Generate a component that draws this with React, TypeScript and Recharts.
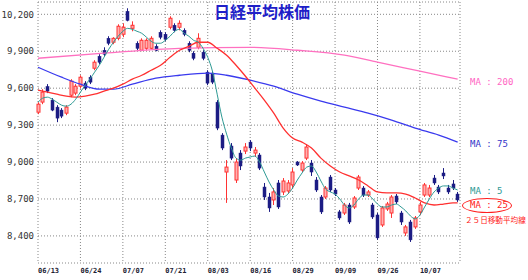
import { ComposedChart, Bar, Line, XAxis, YAxis, CartesianGrid } from "recharts";

// trading days from 06/13, one label every 9 sessions
const tickDays = [0, 9, 18, 27, 36, 45, 54, 63, 72, 81];
const tickDates = ["06/13", "06/24", "07/07", "07/21", "08/03", "08/16", "08/29", "09/09", "09/26", "10/07"];
const priceTicks = [8400, 8700, 9000, 9300, 9600, 9900, 10200];

const opens = [
  9405, 9487, 9613, 9503, 9446, 9422, 9397, 9543, 9560, 9616,
  9641, 9689, 9762, 9859, 9908, 10005, 9973, 10005, 10038, 10224,
  10086, 9965, 9908, 9924, 9924, 9940, 10054, 10038, 10095, 10111,
  10095, 10070, 9965, 9884, 9932, 9892, 9730, 9722, 9486, 9219,
  8919, 9130, 8854, 9073, 9089, 9162, 9073, 9057, 8797, 8716,
  8692, 8830, 8757, 8765, 8814, 9000, 8935, 9032, 8992, 8854,
  8716, 8716, 8878, 8773, 8595, 8586, 8651, 8635, 8789, 8789,
  8732, 8651, 8570, 8489, 8619, 8586, 8724, 8586, 8424, 8513,
  8473, 8595, 8732, 8732, 8870, 8797, 8911, 8789, 8822, 8740,
];
const highs = [
  9486, 9592, 9633, 9519, 9462, 9438, 9462, 9673, 9633, 9705,
  9657, 9705, 9827, 9876, 9932, 10022, 10014, 10119, 10127, 10249,
  10143, 9981, 10005, 10005, 10022, 9957, 10070, 10054, 10184, 10127,
  10151, 10086, 9981, 9900, 10046, 9908, 9746, 9738, 9503, 9235,
  9016, 9154, 9032, 9097, 9154, 9178, 9122, 9073, 8830, 8749,
  8789, 8854, 8870, 8854, 8951, 9008, 9008, 9146, 9016, 8878,
  8732, 8805, 8895, 8789, 8611, 8668, 8668, 8724, 8895, 8805,
  8773, 8668, 8586, 8643, 8676, 8732, 8740, 8603, 8489, 8530,
  8562, 8676, 8830, 8814, 8895, 8814, 8951, 8814, 8854, 8757,
];
const lows = [
  9389, 9470, 9560, 9413, 9324, 9357, 9381, 9527, 9543, 9600,
  9584, 9633, 9746, 9795, 9859, 9949, 9957, 9989, 10014, 10143,
  10062, 9908, 9900, 9908, 9916, 9900, 9997, 9981, 10078, 10054,
  10070, 10022, 9892, 9827, 9916, 9827, 9624, 9633, 9259, 9097,
  8668, 9016, 8830, 8935, 9065, 9089, 9041, 8935, 8692, 8595,
  8651, 8619, 8732, 8749, 8789, 8968, 8919, 9016, 8887, 8757,
  8578, 8700, 8757, 8724, 8530, 8570, 8497, 8619, 8773, 8716,
  8716, 8538, 8368, 8473, 8603, 8546, 8659, 8489, 8400, 8351,
  8457, 8570, 8716, 8716, 8814, 8740, 8862, 8740, 8773, 8676,
];
const closes = [
  9470, 9568, 9576, 9422, 9357, 9373, 9446, 9657, 9616, 9689,
  9600, 9649, 9811, 9811, 9876, 9965, 10005, 10103, 10095, 10151,
  10111, 9924, 9989, 9989, 10005, 9908, 10014, 9997, 10168, 10070,
  10127, 10038, 9908, 9843, 10005, 9843, 9641, 9649, 9276, 9114,
  8959, 9032, 9000, 8968, 9122, 9114, 9097, 8951, 8716, 8627,
  8757, 8635, 8846, 8830, 8919, 8976, 8992, 9122, 8919, 8773,
  8595, 8789, 8773, 8740, 8546, 8651, 8513, 8708, 8878, 8732,
  8757, 8554, 8384, 8627, 8659, 8716, 8676, 8513, 8473, 8368,
  8546, 8651, 8814, 8789, 8830, 8757, 8887, 8757, 8789, 8692,
];

const ma5 = [
  9486, 9519, 9527, 9511, 9486, 9462, 9454, 9470, 9511, 9568,
  9624, 9673, 9730, 9786, 9851, 9916, 9973, 10022, 10062, 10086,
  10078, 10062, 10046, 10014, 9981, 9965, 9965, 9989, 10022, 10062,
  10078, 10046, 10022, 9989, 9973, 9924, 9851, 9738, 9551, 9365,
  9227, 9114, 9032, 9016, 9032, 9041, 9049, 9000, 8919, 8838,
  8773, 8724, 8716, 8740, 8789, 8854, 8911, 8959, 8968, 8919,
  8846, 8781, 8757, 8740, 8700, 8651, 8627, 8651, 8700, 8732,
  8732, 8700, 8659, 8635, 8635, 8651, 8659, 8635, 8603, 8562,
  8538, 8570, 8635, 8700, 8757, 8789, 8806, 8806, 8789, 8773,
];

const ma25Days = [0, 2, 4, 6, 8, 10, 12, 14, 16, 18, 20, 22, 24, 26, 28, 30, 32, 34, 36, 38, 40, 42, 44, 46, 48, 50, 52, 54, 56, 58, 60, 62, 64, 66, 68, 70, 72, 74, 76, 78, 80, 82, 84, 86, 88, 89];
const ma25Values = [
  9584, 9568, 9551, 9535, 9527, 9535, 9551, 9576, 9600, 9633,
  9673, 9705, 9746, 9786, 9851, 9908, 9940, 9973, 9973, 9924,
  9868, 9786, 9697, 9600, 9503, 9397, 9276, 9195, 9162, 9114,
  9032, 8968, 8919, 8887, 8854, 8806, 8757, 8749, 8749, 8740,
  8708, 8668, 8651, 8659, 8668, 8668,
];

const ma75Days = [0, 5, 9, 13, 16, 20, 25, 30, 36, 40, 45, 50, 55, 60, 65, 70, 75, 80, 85, 89];
const ma75Values = [
  9770, 9689, 9632, 9592, 9592, 9632, 9681, 9705, 9722, 9705,
  9665, 9616, 9551, 9495, 9446, 9397, 9341, 9276, 9219, 9162,
];

const ma200Days = [0, 14, 30, 45, 55, 65, 72, 81, 89];
const ma200Values = [9843, 9884, 9924, 9932, 9908, 9868, 9811, 9738, 9673];

const rows = opens.map((open, i) => {
  const a = ma25Days.indexOf(i);
  const b = ma75Days.indexOf(i);
  const c = ma200Days.indexOf(i);
  return {
    i,
    open,
    close: closes[i],
    range: [lows[i], highs[i]],
    ma5: ma5[i],
    ma25: a >= 0 ? ma25Values[a] : null,
    ma75: b >= 0 ? ma75Values[b] : null,
    ma200: c >= 0 ? ma200Values[c] : null,
  };
});

const UP = "#ff3333";
const DOWN = "#1c1c84";

function Candle(props: any) {
  const { x, y, width, height, payload } = props;
  if (!payload || height == null) return null;
  const [low, high] = payload.range;
  const top0 = Math.min(y, y + height);
  const h = Math.abs(height);
  const toY = (v: number) => top0 + ((high - v) / (high - low)) * h;
  const up = payload.close >= payload.open;
  const color = up ? UP : DOWN;
  const cx = Math.round(x + width / 2) + 0.5;
  const bTop = toY(Math.max(payload.open, payload.close));
  const bBot = toY(Math.min(payload.open, payload.close));
  return (
    <g>
      <line x1={cx} x2={cx} y1={top0} y2={top0 + h} stroke={color} strokeWidth={1} />
      <rect
        x={cx - 1.5}
        y={bTop}
        width={3}
        height={Math.max(bBot - bTop, 1.5)}
        fill={up ? "#ffb0b0" : color}
        stroke={color}
        strokeWidth={up ? 1 : 0.5}
      />
    </g>
  );
}

function DateTick(props: any) {
  const { x, y, payload } = props;
  const k = tickDays.indexOf(payload.value);
  return (
    <text x={x} y={y} dy={7} textAnchor="start" fontSize={7} fontFamily="DejaVu Sans Mono" fill="#223" fontWeight="bold">
      {tickDates[k]}
    </text>
  );
}

const label = (color: string, size = 9): React.CSSProperties => ({
  position: "absolute",
  color,
  fontSize: size,
  fontFamily: "DejaVu Sans Mono",
  lineHeight: 1,
  whiteSpace: "nowrap",
});

export default function App() {
  return (
    <div style={{ position: "relative", width: 528, height: 280, background: "#fff", overflow: "hidden" }}>
      <style>{`body{margin:0}`}</style>
      <ComposedChart width={528} height={280} data={rows} margin={{ top: 2, right: 68, left: 0, bottom: 0 }}>
        <CartesianGrid stroke="#888" strokeDasharray="1 2" />
        <XAxis
          dataKey="i"
          type="number"
          domain={[0, 89.5]}
          ticks={tickDays}
          interval={0}
          axisLine={false}
          tickLine={false}
          tickSize={0}
          tickMargin={3}
          height={17}
          tick={<DateTick />}
        />
        <YAxis
          type="number"
          domain={[8180, 10300]}
          ticks={priceTicks}
          interval={0}
          width={38}
          axisLine={false}
          tickLine={false}
          tickSize={0}
          tickMargin={4}
          tick={{ fontSize: 9, fontFamily: "DejaVu Sans Mono", fill: "#333" }}
          tickFormatter={(v: number) => v.toLocaleString("en-US")}
        />
        <Line dataKey="ma200" type="monotone" stroke="#ff70c0" strokeWidth={1.3} dot={false} activeDot={false} connectNulls isAnimationActive={false} />
        <Line dataKey="ma75" type="monotone" stroke="#3a3aee" strokeWidth={1.3} dot={false} activeDot={false} connectNulls isAnimationActive={false} />
        <Line dataKey="ma25" type="monotone" stroke="#ff3030" strokeWidth={1.3} dot={false} activeDot={false} connectNulls isAnimationActive={false} />
        <Line dataKey="ma5" type="monotone" stroke="#2e9a94" strokeWidth={1} dot={false} activeDot={false} isAnimationActive={false} />
        <Bar dataKey="range" barSize={4} shape={<Candle />} isAnimationActive={false} />
      </ComposedChart>

      <div style={{ position: "absolute", left: 214, top: 3, fontSize: 16, fontWeight: "bold", color: "#1f1fc8", fontFamily: "Noto Sans CJK JP", lineHeight: 1 }}>
        日経平均株価
      </div>
      <div style={{ ...label("#ff66c4"), left: 470, top: 78 }}>MA : 200</div>
      <div style={{ ...label("#3434c8"), left: 470, top: 140 }}>MA : 75</div>
      <div style={{ ...label("#2e9a94"), left: 470, top: 187 }}>MA : 5</div>
      <div style={{ position: "absolute", left: 462, top: 198, width: 50, height: 15, border: "1.5px solid #ff2020", borderRadius: "50%", boxSizing: "border-box" }} />
      <div style={{ ...label("#ff2020"), left: 470, top: 201 }}>MA : 25</div>
      <div style={{ ...label("#ff2020", 7.6), left: 465, top: 216, fontFamily: "Noto Sans CJK JP" }}>２５日移動平均線</div>
    </div>
  );
}
